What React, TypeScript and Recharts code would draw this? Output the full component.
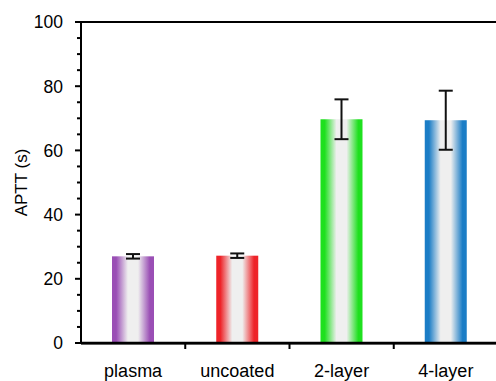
import React from 'react';
import { BarChart, Bar, XAxis, YAxis, ErrorBar, ReferenceLine } from 'recharts';

const categories = ['plasma', 'uncoated', '2-layer', '4-layer'];
const values = [27.0, 27.2, 69.7, 69.4];
const errors = [0.7, 0.7, 6.2, 9.2];
const colors = ['#9a4fb5', '#ee2429', '#1fe01f', '#1b7dc6'];
const yTicks = [0, 5, 10, 15, 20, 25, 30, 35, 40, 45, 50, 55, 60, 65, 70, 75, 80, 85, 90, 95, 100];
const yLabels = [0, 20, 40, 60, 80, 100];

const data = categories.map((c, i) => ({ name: c, value: values[i], err: errors[i] }));

const FONT = '"Liberation Sans", Arial, sans-serif';
const CHART_W = 498;
const AXIS_W = 81;
const PLOT_W = CHART_W - AXIS_W;
const HALF_BAND = PLOT_W / categories.length / 2;

const YTick = (props: any) => {
  const { x, y, payload } = props;
  const v = payload.value;
  const major = yLabels.includes(v);
  return (
    <g>
      <line x1={x - (major ? 6 : 4)} x2={x} y1={y} y2={y} stroke="#000" strokeWidth={2} />
      {major && (
        <text x={x - 18} y={y} dy="0.36em" textAnchor="end" fontSize={17.5} fontFamily={FONT} fill="#000">
          {v}
        </text>
      )}
    </g>
  );
};

const XTick = (props: any) => {
  const { x, y, payload, index } = props;
  const last = index === categories.length - 1;
  return (
    <g>
      {index === 0 && (
        <rect x={x - HALF_BAND} y={y - 1} width={PLOT_W + 2} height={2.5} fill="#000" />
      )}
      {!last && <rect x={x + HALF_BAND - 1} y={y} width={2} height={6} fill="#000" />}
      <text x={x} y={y + 34} textAnchor="middle" fontSize={18} fontFamily={FONT} fill="#000">
        {payload.value}
      </text>
    </g>
  );
};

const GradBar = (props: any) => {
  const { x, y, width, height, index } = props;
  const c = colors[index % colors.length];
  const id = `barGrad${index}`;
  return (
    <g>
      <defs>
        <linearGradient id={id} x1="0" y1="0" x2="1" y2="0">
          <stop offset="0" stopColor={c} />
          <stop offset="0.1" stopColor={c} />
          <stop offset="0.38" stopColor="#efefef" />
          <stop offset="0.62" stopColor="#efefef" />
          <stop offset="0.9" stopColor={c} />
          <stop offset="1" stopColor={c} />
        </linearGradient>
      </defs>
      <rect x={x} y={y} width={width} height={height} fill={`url(#${id})`} />
    </g>
  );
};

export default function App() {
  return (
    <div style={{ position: 'absolute', left: 0, top: 0, width: 496, height: 381, overflow: 'hidden', background: '#fff' }}>
      <BarChart width={CHART_W} height={381} data={data} margin={{ top: 22, right: 0, left: 0, bottom: 0 }}>
        <XAxis
          dataKey="name"
          type="category"
          height={38}
          tickSize={0}
          tickMargin={0}
          axisLine={{ stroke: '#000', strokeWidth: 2.5 }}
          tickLine={false}
          tick={<XTick />}
          interval={0}
        />
        <YAxis
          width={AXIS_W}
          domain={[0, 100]}
          ticks={yTicks}
          interval={0}
          tickSize={0}
          tickMargin={0}
          axisLine={{ stroke: '#000', strokeWidth: 2 }}
          tickLine={false}
          tick={<YTick />}
          label={{
            content: (p: any) => {
              const vb = p.viewBox || {};
              const cx = 21;
              const cy = (vb.y ?? 22) + (vb.height ?? 320) / 2;
              return (
                <text x={cx} y={cy} transform={`rotate(-90 ${cx} ${cy})`} textAnchor="middle" dy="0.35em" fontSize={17} fontFamily={FONT} fill="#000">
                  APTT (s)
                </text>
              );
            },
          }}
        />
        <ReferenceLine y={100} stroke="#000" strokeWidth={2} />
        <Bar dataKey="value" barSize={42} isAnimationActive={false} shape={<GradBar />}>
          <ErrorBar dataKey="err" width={7} stroke="#111" strokeWidth={2} />
        </Bar>
      </BarChart>
    </div>
  );
}
